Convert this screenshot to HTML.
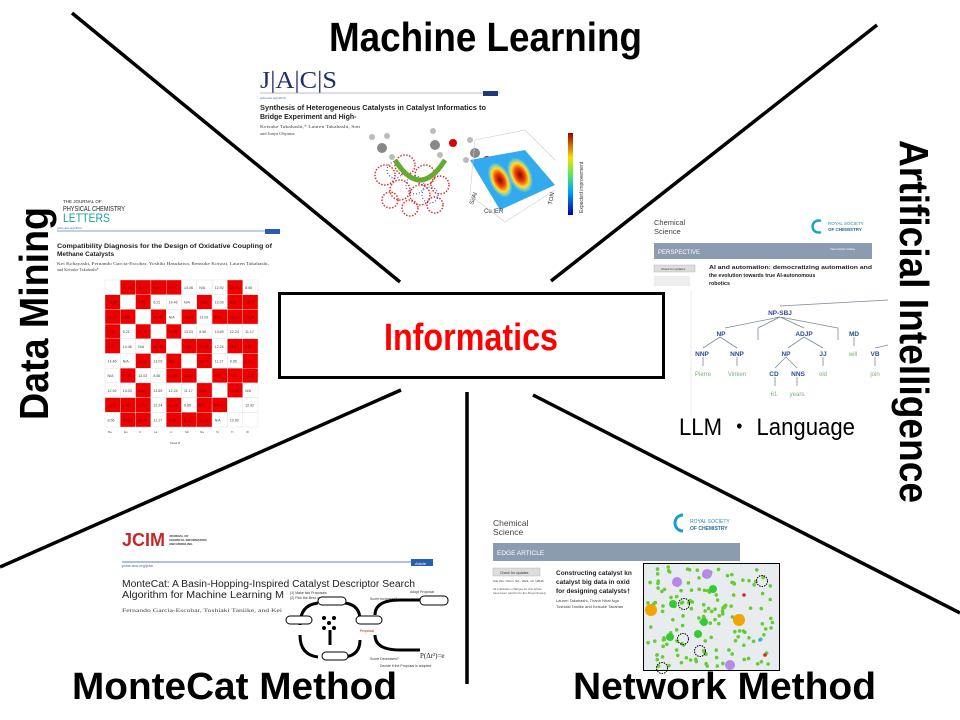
<!DOCTYPE html>
<html><head><meta charset="utf-8"><style>
html,body{margin:0;padding:0;background:#fff}
svg{display:block}
text{font-family:"Liberation Sans","Noto Sans CJK JP",sans-serif}
.s{font-family:"Liberation Serif",serif}
</style></head><body>
<svg width="960" height="720" viewBox="0 0 960 720" xmlns="http://www.w3.org/2000/svg">
<rect width="960" height="720" fill="#fff"/>

<!-- Data mining article -->
<g>
<text x="63" y="203" font-size="4.5" fill="#222">THE JOURNAL OF</text>
<text x="63" y="211" font-size="7" fill="#222" textLength="62" lengthAdjust="spacingAndGlyphs">PHYSICAL CHEMISTRY</text>
<text x="63" y="222" font-size="12" fill="#1aa39a" textLength="47" lengthAdjust="spacingAndGlyphs">LETTERS</text>
<line x1="57" y1="231" x2="280" y2="231" stroke="#5b7fc7" stroke-width="0.8"/>
<rect x="265" y="229" width="15" height="5" fill="#2a5db0"/>
<text x="57" y="229" font-size="3" fill="#4466aa">pubs.acs.org/JPCL</text>
<text x="57" y="248" font-size="6.5" font-weight="bold" fill="#222" textLength="215" lengthAdjust="spacingAndGlyphs">Compatibility Diagnosis for the Design of Oxidative Coupling of</text>
<text x="57" y="256" font-size="6.5" font-weight="bold" fill="#222">Methane Catalysts</text>
<text x="57" y="265" font-size="4.3" fill="#444" class="s" textLength="212" lengthAdjust="spacingAndGlyphs">Kei Kobayashi, Fernando Garcia-Escobar, Yoshiki Hasukawa, Rensuke Koiwai, Lauren Takahashi,</text>
<text x="57" y="271" font-size="4.3" fill="#444" class="s">and Keisuke Takahashi*</text>
<g id="grid"></g>
<g fill="#555" font-size="3">
<text x="108" y="433">Ba</text><text x="124" y="433">Eu</text><text x="139" y="433">K</text><text x="154" y="433">La</text><text x="170" y="433">Li</text><text x="185" y="433">Mn</text><text x="200" y="433">Na</text><text x="216" y="433">Sr</text><text x="231" y="433">Ti</text><text x="246" y="433">W</text>
<text x="170" y="444">Metal B</text>
</g>
</g>

<!-- JACS article -->
<g>
<text x="260" y="88" font-size="24" fill="#1f2f6b" class="s" textLength="77" lengthAdjust="spacingAndGlyphs">J|A|C|S</text>
<line x1="260" y1="93" x2="500" y2="93" stroke="#9aa3cc" stroke-width="0.8"/>
<rect x="483" y="91" width="15" height="5" fill="#1f3a7a"/>
<text x="260" y="99" font-size="3" fill="#4466aa">pubs.acs.org/JACS</text>
<text x="260" y="110" font-size="7" font-weight="bold" fill="#222" textLength="226" lengthAdjust="spacingAndGlyphs">Synthesis of Heterogeneous Catalysts in Catalyst Informatics to</text>
<text x="260" y="119" font-size="7" font-weight="bold" fill="#222">Bridge Experiment and High-</text>
<text x="260" y="128" font-size="4.5" fill="#444" class="s" textLength="100" lengthAdjust="spacingAndGlyphs">Keisuke Takahashi,* Lauren Takahashi, Son</text>
<text x="260" y="135" font-size="4.5" fill="#444" class="s">and Junya Ohyama</text>
<g fill="none" stroke="#d33" stroke-width="1.5" stroke-dasharray="1.5 1.5">
<circle cx="385" cy="175" r="10"/><circle cx="405" cy="165" r="10"/><circle cx="425" cy="175" r="10"/><circle cx="400" cy="190" r="10"/><circle cx="420" cy="195" r="10"/><circle cx="440" cy="185" r="9"/><circle cx="410" cy="208" r="8"/><circle cx="435" cy="205" r="8"/><circle cx="390" cy="200" r="8"/>
</g>
<g fill="none" stroke="#33c" stroke-width="1" stroke-dasharray="1 2">
<circle cx="395" cy="170" r="8"/><circle cx="415" cy="185" r="9"/><circle cx="430" cy="195" r="8"/>
</g>
<path d="M395 160 Q420 200 445 160" fill="none" stroke="#6a3" stroke-width="5"/>
<g fill="#888"><circle cx="382" cy="148" r="5"/><circle cx="435" cy="145" r="5"/><circle cx="475" cy="153" r="5"/></g>
<g fill="#bbb"><circle cx="372" cy="137" r="3"/><circle cx="387" cy="136" r="3"/><circle cx="392" cy="157" r="3"/><circle cx="433" cy="131" r="3"/><circle cx="440" cy="155" r="3"/><circle cx="470" cy="140" r="3"/><circle cx="466" cy="160" r="3"/></g>
<circle cx="453" cy="143" r="4" fill="#d00"/><circle cx="487" cy="160" r="4" fill="#d00"/>
<defs><linearGradient id="rb" x1="0" y1="1" x2="0" y2="0"><stop offset="0" stop-color="#00a"/><stop offset=".3" stop-color="#0af"/><stop offset=".5" stop-color="#5e5"/><stop offset=".7" stop-color="#fd0"/><stop offset="1" stop-color="#900"/></linearGradient>
<radialGradient id="hot"><stop offset="0" stop-color="#800"/><stop offset=".4" stop-color="#e40"/><stop offset=".7" stop-color="#fd3"/><stop offset="1" stop-color="#3bf"/></radialGradient></defs>
<path d="M470 160 L525 150 L555 185 L500 210 Z" fill="#3ae"/>
<ellipse cx="500" cy="180" rx="10" ry="18" fill="url(#hot)" transform="rotate(-25 500 180)"/>
<ellipse cx="520" cy="175" rx="11" ry="18" fill="url(#hot)" transform="rotate(-25 520 175)"/>
<path d="M475 140 L525 130 L555 160 M475 140 L470 195 L505 222 L555 190" fill="none" stroke="#ccc" stroke-width="0.6"/>
<text x="484" y="213" font-size="6" fill="#333">Cu IER</text>
<text x="473" y="205" font-size="6" fill="#333" transform="rotate(-70 473 205)">Si/Al</text>
<text x="552" y="205" font-size="6" fill="#333" transform="rotate(-80 552 205)">TON</text>
<rect x="568" y="133" width="5" height="82" fill="url(#rb)"/>
<text x="583" y="213" font-size="5" fill="#333" transform="rotate(-90 583 213)">Expected improvement</text>
</g>

<!-- AI article -->
<g>
<text x="654" y="225" font-size="7.5" fill="#444">Chemical</text>
<text x="654" y="234" font-size="7.5" fill="#444">Science</text>
<path d="M821 221 A6 6 0 1 0 821 232" fill="none" stroke="#1aa0c8" stroke-width="2.5"/>
<text x="828" y="225" font-size="4.5" fill="#2a8ab8">ROYAL SOCIETY</text>
<text x="828" y="231" font-size="4.5" font-weight="bold" fill="#2a6a9a">OF CHEMISTRY</text>
<rect x="654" y="243" width="218" height="16" fill="#8b9cb0"/>
<text x="658" y="254" font-size="6" fill="#fff">PERSPECTIVE</text>
<text x="830" y="250" font-size="3" fill="#fff">View Article Online</text>
<rect x="654" y="265" width="41" height="7" fill="#ddd" stroke="#aaa" stroke-width=".4"/>
<text x="661" y="270" font-size="3" fill="#333">Check for updates</text>
<rect x="654" y="276" width="36" height="10" fill="#eee"/>
<text x="709" y="269" font-size="5.3" font-weight="bold" fill="#222" textLength="163" lengthAdjust="spacingAndGlyphs">AI and automation: democratizing automation and</text>
<text x="709" y="277" font-size="5.3" font-weight="bold" fill="#222">the evolution towards true AI-autonomous</text>
<text x="709" y="285" font-size="5.3" font-weight="bold" fill="#222">robotics</text>
<line x1="691" y1="290" x2="691" y2="415" stroke="#eee"/>
<g stroke="#7a8a99" stroke-width="0.8" fill="none">
<path d="M780 306 L888 300 M780 317 L725 328 M780 317 L758 328 M780 317 L804 328 M780 317 L838 328 M720 337 L703 348 M720 337 L737 348 M804 337 L788 348 M804 337 L823 348 M703 357 V366 M737 357 V366 M823 357 V366 M854 337 V346 M875 357 V366 M786 357 L775 368 M786 357 L797 368 M775 377 V386 M797 377 V386 M758 328 V340 M838 328 V340 M875 348 L888 345"/>
</g>
<g font-size="6.5" font-weight="bold" fill="#2a4a9a" text-anchor="middle">
<text x="780" y="315">NP-SBJ</text><text x="721" y="336">NP</text><text x="804" y="336">ADJP</text><text x="854" y="336">MD</text>
<text x="702" y="356">NNP</text><text x="737" y="356">NNP</text><text x="786" y="356">NP</text><text x="823" y="356">JJ</text><text x="875" y="356">VB</text>
<text x="774" y="376">CD</text><text x="798" y="376">NNS</text>
</g>
<g font-size="6" fill="#7ab07a" text-anchor="middle">
<text x="703" y="376">Pierre</text><text x="737" y="376">Vinken</text><text x="823" y="376">old</text><text x="853" y="356">will</text><text x="875" y="376">join</text>
<text x="774" y="396">61</text><text x="797" y="396">years</text>
</g>
<text x="679" y="435" font-size="24" fill="#000" textLength="176" lengthAdjust="spacingAndGlyphs">LLM ・ Language</text>
</g>

<!-- MonteCat article -->
<g>
<text x="122" y="546" font-size="18" font-weight="bold" fill="#c62828" textLength="43" lengthAdjust="spacingAndGlyphs">JCIM</text>
<text x="169" y="537" font-size="3" font-weight="bold" fill="#333">JOURNAL OF</text>
<text x="169" y="541" font-size="3" font-weight="bold" fill="#333">CHEMICAL INFORMATION</text>
<text x="169" y="545" font-size="3" font-weight="bold" fill="#333">AND MODELING</text>
<line x1="122" y1="562" x2="433" y2="562" stroke="#5b7fc7" stroke-width="1"/>
<rect x="411" y="559" width="22" height="7" fill="#2a5db0"/>
<text x="415" y="565" font-size="4" fill="#fff">Article</text>
<text x="122" y="567" font-size="4" fill="#4466aa">pubs.acs.org/jcim</text>
<text x="122" y="587" font-size="10" fill="#222" textLength="293" lengthAdjust="spacingAndGlyphs">MonteCat: A Basin-Hopping-Inspired Catalyst Descriptor Search</text>
<text x="122" y="598" font-size="10" fill="#222" textLength="162" lengthAdjust="spacingAndGlyphs">Algorithm for Machine Learning M</text>
<text x="122" y="612" font-size="5.5" fill="#444" class="s" textLength="160" lengthAdjust="spacingAndGlyphs">Fernando Garcia-Escobar, Toshiaki Taniike, and Kei</text>
<g font-size="3.5" fill="#333">
<text x="290" y="594">(1) Make two Proposals</text><text x="290" y="599">(2) Pick the Best one</text>
<text x="410" y="593">Adopt Proposal</text><text x="370" y="600">Score Increases?</text><text x="370" y="660">Score Decreases?</text>
<text x="380" y="667">Decide if the Proposal is adopted</text>
</g>
<g fill="none" stroke="#000" stroke-width="3">
<path d="M300 625 Q300 605 318 603"/><path d="M345 603 Q360 605 360 620"/>
<path d="M300 635 Q300 655 318 657"/><path d="M345 657 Q360 655 360 640"/>
<path d="M375 615 Q375 600 400 600 L420 600"/><path d="M375 635 Q375 650 400 650 L420 650"/>
<path d="M330 630 V645"/>
</g>
<g fill="#fff" stroke="#000" stroke-width="1">
<rect x="318" y="597" width="28" height="8" rx="4"/><rect x="286" y="616" width="26" height="8" rx="4"/><rect x="356" y="616" width="26" height="8" rx="4"/><rect x="322" y="652" width="26" height="8" rx="4"/><rect x="420" y="596" width="28" height="9" rx="4"/>
</g>
<g fill="#000"><circle cx="324" cy="618" r="2"/><circle cx="334" cy="618" r="2"/><circle cx="329" cy="623" r="2"/><circle cx="324" cy="628" r="2"/><circle cx="334" cy="628" r="2"/></g>
<text x="420" y="658" font-size="7" fill="#222" class="s">P(Δr²)=e</text>
<text x="360" y="632" font-size="3.5" fill="#d00">Proposal</text>
</g>

<!-- Network article -->
<g>
<text x="493" y="526" font-size="8.5" fill="#444">Chemical</text>
<text x="493" y="535" font-size="8.5" fill="#444">Science</text>
<path d="M683 515 A8 8 0 1 0 683 531" fill="none" stroke="#1aa0c8" stroke-width="3"/>
<text x="690" y="523" font-size="5" fill="#2a8ab8">ROYAL SOCIETY</text>
<text x="690" y="530" font-size="5" font-weight="bold" fill="#2a6a9a">OF CHEMISTRY</text>
<rect x="493" y="543" width="247" height="18" fill="#8b9cb0"/>
<text x="497" y="555" font-size="6.5" fill="#fff">EDGE ARTICLE</text>
<rect x="493" y="568" width="47" height="8" fill="#ddd" stroke="#aaa" stroke-width=".4"/>
<text x="500" y="574" font-size="3.5" fill="#333">Check for updates</text>
<text x="493" y="582" font-size="3" fill="#333">Cite this: Chem. Sci., 2021, 12, 12546</text>
<text x="493" y="590" font-size="3" fill="#555">All publication charges for this article</text>
<text x="493" y="594" font-size="3" fill="#555">have been paid for by the Royal Society</text>
<text x="556" y="575" font-size="6.5" font-weight="bold" fill="#222">Constructing catalyst kn</text>
<text x="556" y="584" font-size="6.5" font-weight="bold" fill="#222">catalyst big data in oxid</text>
<text x="556" y="593" font-size="6.5" font-weight="bold" fill="#222">for designing catalysts†</text>
<text x="556" y="602" font-size="4" fill="#444">Lauren Takahashi, Thanh Nhat Ngu</text>
<text x="556" y="608" font-size="4" fill="#444">Toshiaki Taniike and Keisuke Takahas</text>
<rect x="643.5" y="563.5" width="136" height="107" fill="#e8ecee" stroke="#000" stroke-width="1"/>
<g id="net"></g>
</g>

<!-- lines -->
<g stroke="#000" stroke-width="3.5" fill="none">
<line x1="72" y1="13" x2="400" y2="282"/>
<line x1="877" y1="25" x2="551" y2="281"/>
<line x1="0" y1="567" x2="401" y2="390"/>
<line x1="533" y1="395" x2="960" y2="613"/>
<line x1="467" y1="392" x2="467" y2="684"/>
</g>
<rect x="279.5" y="293.5" width="384" height="84" fill="#fff" stroke="#000" stroke-width="3"/>
<text x="384" y="350" font-size="38" font-weight="bold" fill="#ff0000" textLength="174" lengthAdjust="spacingAndGlyphs">Informatics</text>

<!-- titles -->
<text x="329" y="51" font-size="41" font-weight="bold" fill="#000" textLength="313" lengthAdjust="spacingAndGlyphs">Machine Learning</text>
<text x="0" y="0" font-size="41" font-weight="bold" fill="#000" textLength="213" lengthAdjust="spacingAndGlyphs" transform="translate(48 420) rotate(-90)">Data Mining</text>
<text x="0" y="0" font-size="41" font-weight="bold" fill="#000" textLength="363" lengthAdjust="spacingAndGlyphs" transform="translate(900 140) rotate(90)">Artificial Intelligence</text>
<text x="72" y="699" font-size="38" font-weight="bold" fill="#000" textLength="325" lengthAdjust="spacingAndGlyphs">MonteCat Method</text>
<text x="573" y="699" font-size="38" font-weight="bold" fill="#000" textLength="303" lengthAdjust="spacingAndGlyphs">Network Method</text>

<script>
(function(){
var ns="http://www.w3.org/2000/svg";
var pat=["_RRRRwwwRw","R_RwwwRwRR","RR_RwRwRRR","RwR_Rwwwww","RwwR_RRwRR","wwRwR_RwwR","wRwwRR_RRR","wwRwwwR_Rw","RRRwRwRR_w","wRRwRRRww_"];
var g=document.getElementById("grid");
var vals=["13.69","12.24","11.17","9.85","6.21","14.46","N/A","12.92","13.03","8.56"];
for(var r=0;r<10;r++)for(var c=0;c<10;c++){
var x=105+c*15.3,y=280+r*14.7,ch=pat[r][c];
var e=document.createElementNS(ns,"rect");
e.setAttribute("x",x);e.setAttribute("y",y);e.setAttribute("width",15.3);e.setAttribute("height",14.7);
e.setAttribute("fill",ch=="R"?"#ee0000":"#fff");e.setAttribute("stroke","#ddd");e.setAttribute("stroke-width","0.4");
g.appendChild(e);
if(ch!="_"){var t=document.createElementNS(ns,"text");t.setAttribute("x",x+2.5);t.setAttribute("y",y+9);
t.setAttribute("font-size","3.6");t.setAttribute("fill",ch=="R"?"#600":"#444");t.textContent=vals[(r+c)%10];g.appendChild(t);}
}
var n=document.getElementById("net");
var seed=7;function rnd(){seed=(seed*9301+49297)%233280;return seed/233280;}
for(var i=0;i<150;i++){var c=document.createElementNS(ns,"circle");
c.setAttribute("cx",647+rnd()*129);c.setAttribute("cy",567+rnd()*100);c.setAttribute("r",1.8);
c.setAttribute("fill","#6c3");n.appendChild(c);}
var big=[[677,582,"#b58ae6",5],[707,574,"#b58ae6",5],[651,610,"#f0a500",6],[739,620,"#f0a500",6],[730,665,"#b58ae6",5],[673,604,"#3c3",4],[713,589,"#3c3",4],[704,622,"#3c3",4],[670,637,"#3c3",4],[698,634,"#3c3",4],[744,595,"#d22",1.8],[765,655,"#d22",1.8],[760,640,"#3af",1.8]];
big.forEach(function(b){var c=document.createElementNS(ns,"circle");c.setAttribute("cx",b[0]);c.setAttribute("cy",b[1]);c.setAttribute("r",b[3]);c.setAttribute("fill",b[2]);n.appendChild(c);});
[[684,604],[762,581],[683,639],[700,651],[662,668]].forEach(function(p){var c=document.createElementNS(ns,"circle");c.setAttribute("cx",p[0]);c.setAttribute("cy",p[1]);c.setAttribute("r",5.5);c.setAttribute("fill","none");c.setAttribute("stroke","#000");c.setAttribute("stroke-dasharray","1.5 1");n.appendChild(c);});
})();
</script>
</svg>
</body></html>
